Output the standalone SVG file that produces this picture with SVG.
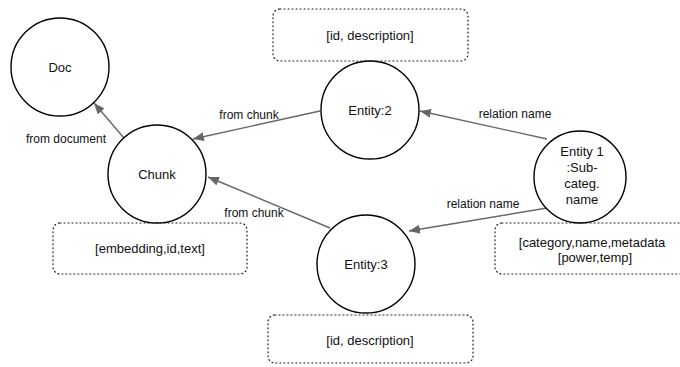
<svg xmlns="http://www.w3.org/2000/svg" width="680" height="367" viewBox="0 0 680 367">
<style>
.node{fill:#fff;stroke:#000;stroke-width:1.4}
.box{fill:none;stroke:#222;stroke-width:1.2;stroke-dasharray:1 3;stroke-linecap:round}
.t{font-family:"Liberation Sans",Arial,sans-serif;font-size:13px;fill:#111;text-anchor:middle}
.el{font-family:"Liberation Sans",Arial,sans-serif;font-size:12px;fill:#111;text-anchor:middle}
.edge{stroke:#666;stroke-width:1.4;fill:none;marker-end:url(#arr)}
</style>
<defs>
<marker id="arr" markerUnits="userSpaceOnUse" markerWidth="12" markerHeight="10" refX="11" refY="4.5" orient="auto">
<path d="M0,0 L11,4.5 L0,9 Z" fill="#666"/>
</marker>
</defs>
<rect width="680" height="367" fill="#fff"/>
<g id="connectors">
<line class="edge" x1="124" y1="138" x2="94" y2="103"/>
<line class="edge" x1="320" y1="111" x2="193" y2="139"/>
<line class="edge" x1="330" y1="228" x2="208" y2="177"/>
<line class="edge" x1="547" y1="139" x2="420" y2="111"/>
<line class="edge" x1="547" y1="208" x2="409" y2="231"/>
<text class="el" x="66" y="143">from document</text>
<text class="el" x="249" y="119">from chunk</text>
<text class="el" x="254" y="217">from chunk</text>
<text class="el" x="515" y="118">relation name</text>
<text class="el" x="483" y="208">relation name</text>
</g>
<g id="doc">
<circle class="node" cx="60" cy="67" r="49"/>
<text class="t" x="60" y="71.5">Doc</text>
</g>
<g id="chunk">
<circle class="node" cx="157" cy="174" r="49"/>
<text class="t" x="157" y="178.5">Chunk</text>
</g>
<g id="entity2">
<circle class="node" cx="370" cy="110" r="49"/>
<text class="t" x="370" y="114.5">Entity:2</text>
</g>
<g id="entity3">
<circle class="node" cx="366" cy="264" r="49"/>
<text class="t" x="366" y="268.5">Entity:3</text>
</g>
<g id="entity1">
<circle class="node" cx="580" cy="177" r="46"/>
<text class="t" x="582" y="156">Entity 1</text>
<text class="t" x="582" y="172">:Sub-</text>
<text class="t" x="582" y="188">categ.</text>
<text class="t" x="582" y="204">name</text>
</g>
<g id="box-entity2">
<rect class="box" x="273" y="9" width="195" height="52" rx="7"/>
<text class="t" x="370" y="39.5">[id, description]</text>
</g>
<g id="box-chunk">
<rect class="box" x="53" y="223" width="194" height="51" rx="7"/>
<text class="t" x="150" y="252.5">[embedding,id,text]</text>
</g>
<g id="box-entity3">
<rect class="box" x="268" y="315" width="205" height="48" rx="7"/>
<text class="t" x="370" y="344.5">[id, description]</text>
</g>
<g id="box-entity1">
<rect class="box" x="495" y="223" width="200" height="51" rx="7"/>
<text class="t" x="592" y="246.5">[category,name,metadata</text>
<text class="t" x="595" y="261.5">[power,temp]</text>
</g>
</svg>
